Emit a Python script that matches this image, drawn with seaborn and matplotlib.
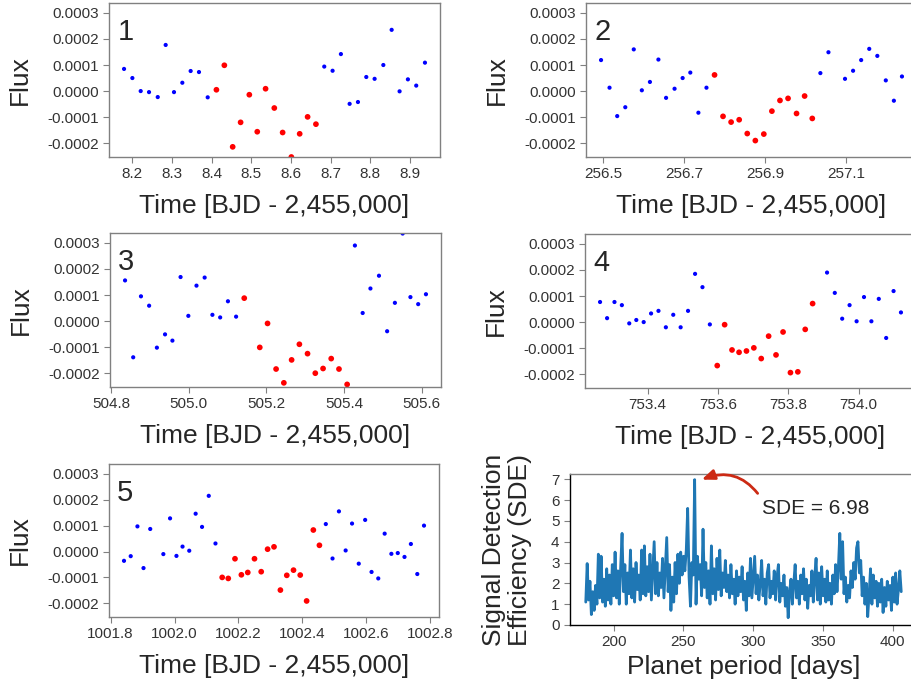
import numpy as np
import pandas as pd
import seaborn as sns
import matplotlib.pyplot as plt
from matplotlib.ticker import FormatStrFormatter, MultipleLocator

# flux values below are in units of 1e-4
FLUX_UNIT = 1e-4

# transit 1
time1 = [8.179, 8.200, 8.221, 8.242, 8.264, 8.284, 8.305, 8.326, 8.347, 8.368,
         8.390, 8.412, 8.432, 8.453, 8.473, 8.495, 8.515, 8.536, 8.558, 8.579,
         8.601, 8.622, 8.642, 8.663, 8.684, 8.705, 8.726, 8.748, 8.769, 8.790,
         8.811, 8.833, 8.854, 8.874, 8.895, 8.916, 8.938]
flux1 = [0.85, 0.50, 0.00, -0.04, -0.23, 1.77, -0.04, 0.32, 0.77, 0.73,
         -0.24, 0.05, 0.99, -2.14, -1.20, -0.14, -1.56, 0.09, -0.65, -1.59,
         -2.53, -1.64, -0.99, -1.27, 0.94, 0.78, 1.42, -0.49, -0.42, 0.54,
         0.47, 1.00, 2.35, -0.01, 0.45, 0.21, 1.09]
window1 = (8.400, 8.670)
ticks1 = [8.2, 8.3, 8.4, 8.5, 8.6, 8.7, 8.8, 8.9]

# transit 2
time2 = [256.494, 256.515, 256.534, 256.554, 256.575, 256.595, 256.615, 256.636,
         256.655, 256.676, 256.696, 256.715, 256.735, 256.755, 256.775, 256.796,
         256.816, 256.836, 256.856, 256.876, 256.897, 256.917, 256.937, 256.957,
         256.978, 256.998, 257.017, 257.037, 257.057, 257.098, 257.118, 257.138,
         257.158, 257.178, 257.199, 257.219, 257.239]
flux2 = [1.19, 0.13, -0.96, -0.62, 1.60, 0.03, 0.35, 1.21, -0.26, 0.09,
         0.50, 0.71, -0.83, 0.13, 0.62, -0.97, -1.19, -1.10, -1.63, -1.90,
         -1.65, -0.77, -0.36, -0.28, -0.86, -0.19, -1.05, 0.69, 1.49, 0.47,
         0.78, 1.19, 1.62, 1.35, 0.41, -0.37, 0.56]
window2 = (256.765, 257.027)
ticks2 = [256.5, 256.7, 256.9, 257.1]

# transit 3
time3 = [504.836, 504.857, 504.877, 504.898, 504.918, 504.939, 504.958, 504.979,
         504.999, 505.020, 505.041, 505.061, 505.081, 505.101, 505.122, 505.143,
         505.183, 505.203, 505.225, 505.245, 505.265, 505.285, 505.306, 505.326,
         505.346, 505.367, 505.387, 505.408, 505.428, 505.448, 505.468, 505.490,
         505.511, 505.531, 505.551, 505.571, 505.591, 505.611]
flux3 = [1.56, -1.39, 0.95, 0.59, -1.02, -0.51, -0.75, 1.69, 0.20, 1.36,
         1.67, 0.24, 0.14, 0.76, 0.17, 0.88, -1.01, -0.09, -1.84, -2.37,
         -1.49, -0.89, -1.25, -2.00, -1.82, -1.44, -1.84, -2.43, 2.90, 0.31,
         1.25, 1.74, -0.39, 0.70, 3.36, 0.92, 0.65, 1.03]
window3 = (505.132, 505.418)
ticks3 = [504.8, 505.0, 505.2, 505.4, 505.6]

# transit 4
time4 = [753.265, 753.285, 753.306, 753.327, 753.348, 753.368, 753.389, 753.410,
         753.431, 753.452, 753.473, 753.494, 753.515, 753.535, 753.556, 753.577,
         753.598, 753.619, 753.640, 753.660, 753.681, 753.702, 753.723, 753.744,
         753.765, 753.785, 753.806, 753.827, 753.848, 753.869, 753.910, 753.932,
         753.953, 753.974, 753.994, 754.015, 754.036, 754.057, 754.078, 754.099,
         754.120]
flux4 = [0.77, 0.15, 0.77, 0.65, -0.05, 0.08, 0.00, 0.33, 0.43, -0.20,
         0.28, -0.20, 0.43, 1.85, 1.34, -0.09, -1.67, -0.10, -1.07, -1.16,
         -1.11, -0.99, -1.40, -0.54, -1.26, -0.38, -1.94, -1.91, -0.28, 0.71,
         1.90, 1.12, 0.13, 0.65, 0.03, 0.96, 0.03, 0.89, -0.61, 1.19, 0.37]
window4 = (753.588, 753.880)
ticks4 = [753.4, 753.6, 753.8, 754.0]

# transit 5
time5 = [1001.842, 1001.863, 1001.884, 1001.903, 1001.924, 1001.965, 1001.986,
         1002.006, 1002.025, 1002.046, 1002.066, 1002.086, 1002.107, 1002.128,
         1002.149, 1002.168, 1002.189, 1002.209, 1002.229, 1002.250, 1002.271,
         1002.291, 1002.311, 1002.331, 1002.351, 1002.372, 1002.393, 1002.413,
         1002.434, 1002.453, 1002.473, 1002.494, 1002.514, 1002.535, 1002.555,
         1002.576, 1002.596, 1002.616, 1002.637, 1002.657, 1002.678, 1002.698,
         1002.719, 1002.739, 1002.759, 1002.780]
flux5 = [-0.36, -0.18, 0.97, -0.64, 0.87, -0.10, 1.28, -0.17, 0.19, 0.03,
         1.46, 0.95, 2.15, 0.31, -1.00, -1.04, -0.28, -0.90, -0.81, -0.28,
         -0.78, 0.09, 0.18, -1.49, -0.92, -0.72, -0.91, -1.91, 0.83, 0.24,
         1.06, -0.27, 1.55, 0.04, 1.08, -0.47, 1.22, -0.79, -1.04, 0.69,
         -0.09, -0.06, -0.21, 0.29, -0.87, 1.00]
window5 = (1002.138, 1002.463)
ticks5 = [1001.8, 1002.0, 1002.2, 1002.4, 1002.6, 1002.8]

flux_ticks = [-0.0002, -0.0001, 0.0, 0.0001, 0.0002, 0.0003]

# periodogram
periods = [180, 181, 182, 183, 184, 185, 186, 187, 188, 189,
           190, 191, 192, 193, 194, 195, 196, 197, 198, 199,
           200, 201, 202, 203, 204, 205, 206, 207, 208, 209,
           210, 211, 212, 213, 214, 215, 216, 217, 218, 219,
           220, 221, 222, 223, 224, 225, 226, 227, 228, 229,
           230, 231, 232, 233, 234, 235, 236, 237, 238, 239,
           240, 241, 242, 243, 244, 245, 246, 247, 248, 249,
           250, 251, 252, 253, 254, 255, 256, 257, 258, 259,
           260, 261, 262, 263, 264, 265, 266, 267, 268, 269,
           270, 271, 272, 273, 274, 275, 276, 277, 278, 279,
           280, 281, 282, 283, 284, 285, 286, 287, 288, 289,
           290, 291, 292, 293, 294, 295, 296, 297, 298, 299,
           300, 301, 302, 303, 304, 305, 306, 307, 308, 309,
           310, 311, 312, 313, 314, 315, 316, 317, 318, 319,
           320, 321, 322, 323, 324, 325, 326, 327, 328, 329,
           330, 331, 332, 333, 334, 335, 336, 337, 338, 339,
           340, 341, 342, 343, 344, 345, 346, 347, 348, 349,
           350, 351, 352, 353, 354, 355, 356, 357, 358, 359,
           360, 361, 362, 363, 364, 365, 366, 367, 368, 369,
           370, 371, 372, 373, 374, 375, 376, 377, 378, 379,
           380, 381, 382, 383, 384, 385, 386, 387, 388, 389,
           390, 391, 392, 393, 394, 395, 396, 397, 398, 399,
           400, 401, 402, 403, 404, 405, 406]
sde = [1.1, 2.95, 1.2, 2.1, 0.5, 1.6, 0.7, 1.9, 1.0, 3.4,
       1.3, 3.3, 1.1, 2.2, 0.9, 2.7, 1.2, 2.4, 1.0, 2.9,
       1.4, 3.5, 1.3, 2.6, 1.0, 2.8, 4.4, 1.6, 2.9, 1.0,
       2.5, 1.5, 3.6, 1.3, 2.7, 1.1, 3.0, 1.7, 2.4, 1.2,
       3.6, 1.5, 3.8, 1.4, 2.8, 1.6, 3.4, 1.2, 2.6, 4.0,
       1.5, 3.0, 1.4, 2.5, 1.8, 3.2, 1.3, 2.7, 4.2, 1.6,
       2.9, 0.7, 2.3, 1.1, 3.0, 1.5, 3.4, 2.0, 3.5, 2.4,
       3.3, 2.6, 3.6, 5.6, 2.3, 0.9, 3.0, 2.4, 6.98, 1.0,
       3.3, 2.2, 2.9, 1.4, 4.6, 1.8, 3.0, 1.3, 2.6, 1.0,
       3.8, 1.5, 2.7, 1.2, 3.2, 1.7, 3.6, 1.4, 2.5, 1.8,
       3.1, 1.6, 2.4, 1.3, 2.9, 1.5, 2.2, 1.0, 2.6, 1.4,
       2.3, 1.6, 2.8, 1.2, 2.1, 0.7, 2.5, 1.4, 3.2, 1.3,
       2.3, 3.3, 1.5, 2.4, 1.2, 2.0, 3.1, 1.4, 2.2, 1.0,
       2.5, 2.9, 1.3, 2.1, 1.5, 2.6, 1.2, 2.3, 2.9, 1.1,
       2.0, 1.4, 2.4, 0.9, 1.8, 0.35, 1.6, 2.2, 1.0, 2.0,
       2.9, 1.3, 2.1, 1.0, 2.4, 1.5, 2.7, 1.2, 2.2, 0.8,
       1.9, 1.4, 2.6, 1.1, 2.3, 3.2, 1.2, 2.5, 1.0, 2.8,
       1.4, 2.2, 1.1, 2.6, 1.2, 2.0, 1.0, 2.4, 1.5, 2.9,
       1.6, 2.8, 4.4, 2.2, 4.0, 1.5, 2.3, 1.1, 1.9, 1.3,
       2.6, 1.8, 3.0, 2.2, 3.7, 4.0, 2.5, 3.1, 1.4, 2.3,
       1.0, 2.0, 0.4, 1.5, 2.7, 1.0, 2.4, 1.3, 2.1, 0.9,
       2.0, 1.1, 2.2, 0.6, 1.8, 0.9, 2.1, 1.2, 1.9, 0.7,
       2.3, 1.1, 2.5, 1.0, 1.7, 2.6, 1.6]
best_sde = 6.98
sde_ticks = [0, 1, 2, 3, 4, 5, 6, 7]
period_ticks = [200, 250, 300, 350, 400]

FS_LABEL = 19
FS_TICK = 11
GREY = '#808080'


def style_axes(ax):
    for s in ax.spines.values():
        s.set_color(GREY)
        s.set_linewidth(1.0)
    ax.tick_params(labelsize=FS_TICK, labelcolor='#333333', color=GREY,
                   length=4, width=0.8, direction='out')


def draw_transit(ax, times, flux, window, num, xticks):
    df = pd.DataFrame({'time': times, 'flux': np.array(flux) * FLUX_UNIT})
    inside = (df['time'] > window[0]) & (df['time'] < window[1])
    df['part'] = np.where(inside, 'in', 'out')
    sns.scatterplot(data=df, x='time', y='flux', hue='part', size='part',
                    palette={'out': '#0000ff', 'in': '#ff0000'},
                    sizes={'out': 9, 'in': 17}, linewidth=0, legend=False, ax=ax)
    ax.set_ylim(-0.000253, 0.000338)
    ax.set_yticks(flux_ticks)
    ax.yaxis.set_major_formatter(FormatStrFormatter('%.4f'))
    ax.set_xticks(xticks)
    ax.xaxis.set_major_formatter(FormatStrFormatter('%.1f'))
    ax.set_xlabel('Time [BJD - 2,455,000]', fontsize=FS_LABEL, labelpad=9)
    ax.set_ylabel('Flux', fontsize=FS_LABEL, labelpad=11)
    ax.text(0.025, 0.905, str(num), transform=ax.transAxes, fontsize=21,
            va='top', ha='left')
    style_axes(ax)


sns.set_style("ticks")
plt.rcParams['font.family'] = ['Liberation Sans', 'DejaVu Sans']
plt.rcParams['axes.unicode_minus'] = False

fig = plt.figure(figsize=(9.11, 6.86), dpi=100)
W = 911.0
H = 686.0


def px_axes(left, top, right, bottom):
    return fig.add_axes([left / W, 1 - bottom / H, (right - left) / W, (bottom - top) / H])


ax1 = px_axes(109, 3, 440, 157)
ax2 = px_axes(586, 3, 917, 157)
ax3 = px_axes(110, 233, 441, 387)
ax4 = px_axes(585, 234, 916, 388)
ax5 = px_axes(109, 464, 439, 617)
ax6 = px_axes(570, 474, 917, 625)

draw_transit(ax1, time1, flux1, window1, 1, ticks1)
draw_transit(ax2, time2, flux2, window2, 2, ticks2)
draw_transit(ax3, time3, flux3, window3, 3, ticks3)
draw_transit(ax4, time4, flux4, window4, 4, ticks4)
draw_transit(ax5, time5, flux5, window5, 5, ticks5)

# SDE periodogram
pdf = pd.DataFrame({'period': periods, 'sde': sde})
sns.lineplot(data=pdf, x='period', y='sde', color='#1f77b4', linewidth=2, ax=ax6)
ax6.set_ylim(0, 7.25)
ax6.set_yticks(sde_ticks)
ax6.set_xticks(period_ticks)
ax6.set_xlabel('Planet period [days]', fontsize=FS_LABEL, labelpad=4)
ax6.set_ylabel('Signal Detection\nEfficiency (SDE)', fontsize=FS_LABEL,
               labelpad=14, linespacing=1.1)
style_axes(ax6)
ax6.spines['left'].set_color('black')
ax6.spines['bottom'].set_color('black')
peak = pdf.loc[pdf['sde'].idxmax()]
ax6.annotate('SDE = %.2f' % best_sde, xy=(peak['period'] + 5, peak['sde']),
             xytext=(306, 5.6), fontsize=15, va='center', ha='left',
             arrowprops=dict(arrowstyle='-|>,head_length=0.5,head_width=0.2',
                             color='#cc2a14', lw=2, relpos=(0, 1),
                             shrinkA=2, shrinkB=0,
                             connectionstyle='arc3,rad=0.4'))

fig.savefig('out.png', dpi=100)
